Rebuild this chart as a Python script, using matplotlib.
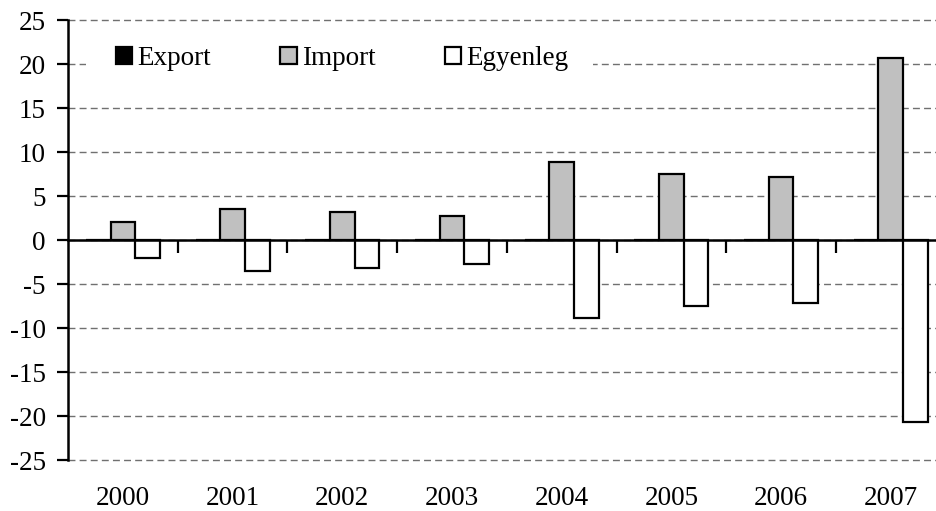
import matplotlib
matplotlib.use("Agg")
import matplotlib.pyplot as plt
import numpy as np
from matplotlib.patches import Rectangle

plt.rcParams['font.family'] = ['Liberation Serif', 'DejaVu Serif']
plt.rcParams['axes.unicode_minus'] = False

# data
years = ['2000', '2001', '2002', '2003', '2004', '2005', '2006', '2007']
export = [0, 0, 0, 0, 0, 0, 0, 0]
imports = [2.0, 3.5, 3.2, 2.7, 8.9, 7.5, 7.2, 20.7]
egyenleg = [-2.0, -3.5, -3.2, -2.7, -8.9, -7.5, -7.2, -20.7]

fs = 19.5

fig = plt.figure(figsize=(9.37, 5.11), dpi=100)
ax = fig.add_axes([68 / 937, 1 - 460 / 511, 877.6 / 937, 440 / 511])

x = np.arange(len(years))
w = 0.225
bar_kw = dict(width=w, edgecolor='black', linewidth=1.6, zorder=3)
ax.bar(x - w, export, color='black', label='Export', **bar_kw)
ax.bar(x, imports, color='#c0c0c0', label='Import', **bar_kw)
ax.bar(x + w, egyenleg, color='white', label='Egyenleg', **bar_kw)

ax.set_xlim(-0.5, len(years) - 0.5)
ax.set_ylim(-25, 25)
ax.set_yticks(np.arange(-25, 26, 5))
ax.yaxis.grid(True, linestyle=(0, (5, 3)), color='#707070', linewidth=1.0, zorder=0)
for gl in ax.yaxis.get_gridlines():
    gl.set_clip_on(False)
ax.set_axisbelow(True)

for s in ['top', 'right']:
    ax.spines[s].set_visible(False)
ax.spines['left'].set_linewidth(1.8)
ax.spines['bottom'].set_position(('data', 0))
ax.spines['bottom'].set_linewidth(1.8)
ax.spines['bottom'].set_zorder(4)

# tick marks between groups on the zero line, labels at the bottom
ax.set_xticks(x)
ax.set_xticks(np.arange(0.5, len(years) - 0.5, 1), minor=True)
ax.tick_params(axis='x', which='major', length=0, labelbottom=False)
ax.tick_params(axis='x', which='minor', length=9, width=1.6, direction='out')
ax.tick_params(axis='y', length=8, width=1.6, labelsize=fs, pad=8)

sec = ax.secondary_xaxis(0)
sec.set_xticks(x, years)
sec.spines['bottom'].set_visible(False)
sec.tick_params(length=0, labelsize=fs, pad=19)

# white area behind the legend hides the gridline there
ax.add_patch(Rectangle((0.02, 0.82), 0.578, 0.13, transform=ax.transAxes,
                       facecolor='white', edgecolor='none', zorder=2))
leg = ax.legend(loc='center left', bbox_to_anchor=(0.033, 0.913), ncol=3, frameon=False,
                fontsize=fs, handlelength=0.6, handleheight=0.6, handletextpad=0.2,
                columnspacing=2.55, borderpad=0.2)

fig.savefig('out.png', dpi=100)
